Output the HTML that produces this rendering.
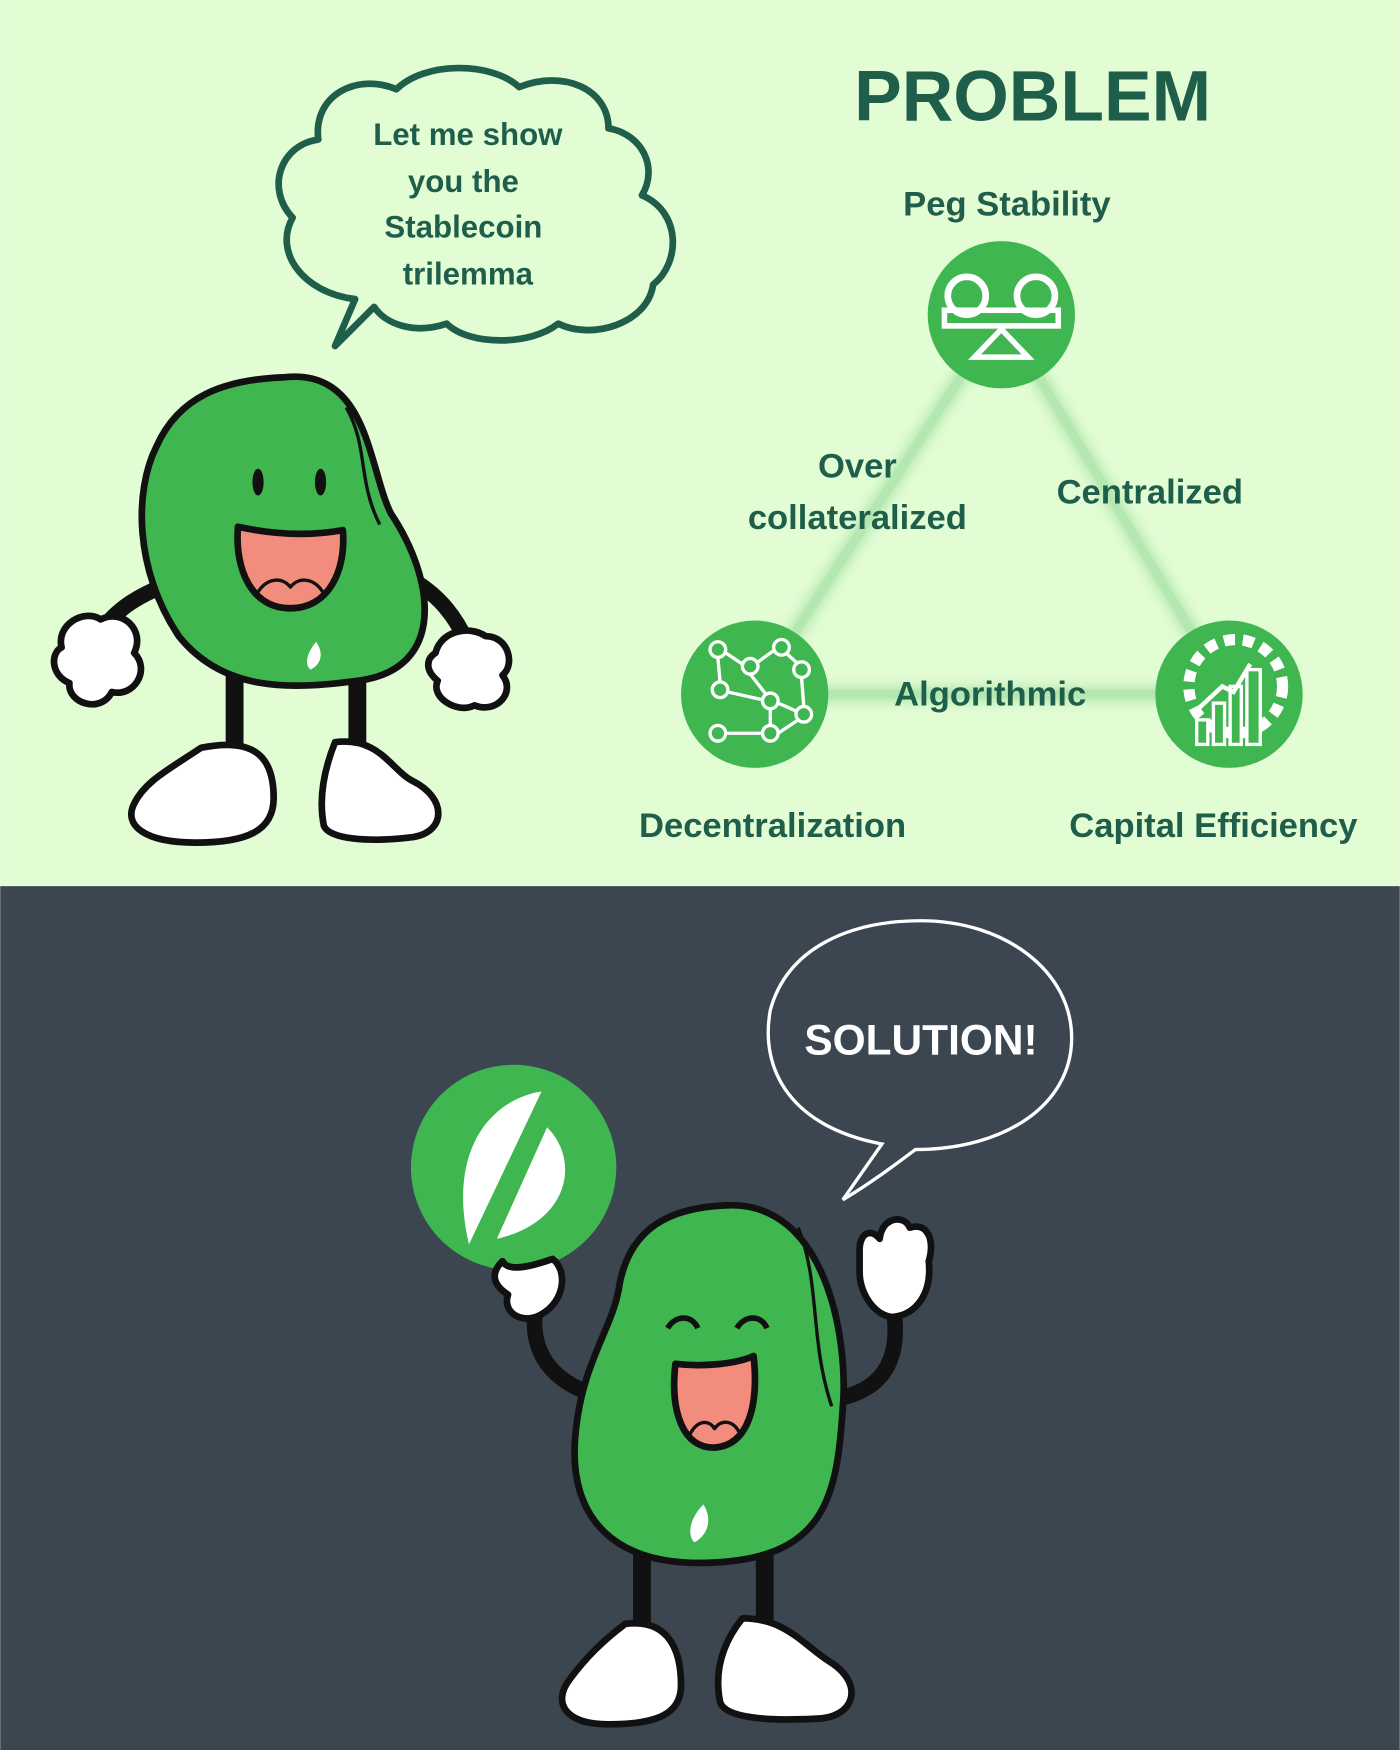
<!DOCTYPE html>
<html><head><meta charset="utf-8">
<style>
html,body{margin:0;padding:0;width:1400px;height:1750px;overflow:hidden;}
svg{display:block}
text{font-family:"Liberation Sans",sans-serif;font-weight:bold;}
</style></head>
<body>
<svg width="1400" height="1750" viewBox="0 0 1254 1568">
<defs>
<filter id="blur" x="-20%" y="-20%" width="140%" height="140%"><feGaussianBlur stdDeviation="5"/></filter>
</defs>
<rect x="0" y="0" width="1254" height="794" fill="#e2fcd4"/>
<rect x="0" y="794" width="1254" height="774" fill="#3b4650"/>

<g>
<path d="M300,310 L318,268 C270,262 245,225 262,195 C238,170 250,130 285,125 C280,85 320,65 355,80 C380,55 440,55 465,78 C505,62 545,80 545,115 C575,120 590,150 575,175 C610,190 610,235 585,255 C580,290 530,305 500,290 C475,310 420,310 400,290 C370,300 345,290 335,275 Z" fill="none" stroke="#1f5e4a" stroke-width="6" stroke-linejoin="round"/>
<text fill="#1f5e4a" font-size="28" text-anchor="middle"><tspan x="419" y="130">Let me show</tspan><tspan x="415" y="172">you the</tspan><tspan x="415" y="213">Stablecoin</tspan><tspan x="419" y="255">trilemma</tspan></text>
</g>

<text x="925" y="108" fill="#1f5e4a" font-size="64" text-anchor="middle">PROBLEM</text>

<g>
<path d="M897,282 L676,622 L1101,622 Z" fill="none" stroke="#b4e8b0" stroke-width="14" filter="url(#blur)"/>
<path d="M897,282 L676,622 L1101,622 Z" fill="none" stroke="#b4e8b0" stroke-width="8"/>
</g>
<text x="902" y="193" fill="#1f5e4a" font-size="31" text-anchor="middle">Peg Stability</text>
<g>
<circle cx="897" cy="282" r="66" fill="#3fb650"/>
<circle cx="866" cy="265" r="17" fill="none" stroke="#fff" stroke-width="6"/>
<circle cx="928" cy="265" r="17" fill="none" stroke="#fff" stroke-width="6"/>
<rect x="846" y="278" width="102" height="14" fill="none" stroke="#fff" stroke-width="5"/>
<path d="M897,295 L873,320 L921,320 Z" fill="none" stroke="#fff" stroke-width="5"/>
</g>
<text fill="#1f5e4a" font-size="31" text-anchor="middle"><tspan x="768" y="428">Over</tspan><tspan x="768" y="474">collateralized</tspan></text>
<text x="1030" y="451" fill="#1f5e4a" font-size="31" text-anchor="middle">Centralized</text>
<text x="887" y="632" fill="#1f5e4a" font-size="31" text-anchor="middle">Algorithmic</text>
<g>
<circle cx="676" cy="622" r="66" fill="#3fb650"/>
<g fill="none" stroke="#fff" stroke-width="3">
<circle cx="643" cy="582" r="7"/><circle cx="672" cy="597" r="7"/><circle cx="700" cy="580" r="7"/><circle cx="718" cy="600" r="7"/><circle cx="645" cy="618" r="7"/><circle cx="690" cy="628" r="7"/><circle cx="720" cy="640" r="7"/><circle cx="643" cy="657" r="7"/><circle cx="690" cy="657" r="7"/>
<path d="M650,585 L665,595 M679,593 L693,583 M705,586 L714,594 M718,607 L720,633 M672,604 L686,622 M652,620 L683,627 M697,630 L713,637 M690,635 L690,650 M650,657 L683,657 M697,657 L715,645 M643,589 L645,611"/>
</g></g>
<text x="692" y="750" fill="#1f5e4a" font-size="31" text-anchor="middle">Decentralization</text>
<g>
<circle cx="1101" cy="622" r="66" fill="#3fb650"/>
<circle cx="1107" cy="615" r="42" fill="none" stroke="#fff" stroke-width="10" stroke-dasharray="10 7"/>
<g fill="#3fb650" stroke="#fff" stroke-width="3">
<rect x="1072" y="645" width="10" height="22"/><rect x="1087" y="630" width="10" height="37"/><rect x="1102" y="615" width="10" height="52"/><rect x="1117" y="600" width="12" height="67"/></g>
<path d="M1068,640 L1095,615 L1105,620 L1120,595" fill="none" stroke="#fff" stroke-width="4"/>
</g>
<text x="1087" y="750" fill="#1f5e4a" font-size="31" text-anchor="middle">Capital Efficiency</text>

<g stroke="#111" stroke-width="6" stroke-linejoin="round">
<path d="M160,520 C130,530 100,545 85,575" fill="none" stroke-width="14"/>
<path d="M370,520 C395,535 410,555 420,580" fill="none" stroke-width="14"/>
<path d="M210,600 L210,680 M320,600 L320,680" stroke-width="16"/>
<path d="M255,338 C330,330 330,420 350,460 C390,520 400,600 320,610 C260,618 200,620 160,570 C120,510 120,440 140,400 C160,355 200,340 255,338 Z" fill="#3fb650"/>
<path d="M310,365 C330,400 320,430 340,470" fill="none" stroke-width="3"/>
<ellipse cx="231" cy="432" rx="5" ry="12" fill="#111" stroke="none"/>
<ellipse cx="287" cy="432" rx="5" ry="12" fill="#111" stroke="none"/>
<path d="M213,472 C250,480 280,480 307,475 C310,510 295,545 260,545 C225,545 210,510 213,472 Z" fill="#f28c7c"/>
<path d="M230,532 C238,518 252,516 260,526 C268,516 282,518 290,532" fill="none" stroke-width="3"/>
<path d="M55,580 C50,560 75,545 90,555 C110,545 130,565 120,585 C135,600 120,625 100,620 C90,640 60,630 62,612 C45,605 45,585 55,580 Z" fill="#fff"/>
<path d="M390,585 C395,565 420,560 435,570 C455,570 462,595 450,605 C462,620 445,640 425,632 C410,640 385,625 392,610 C380,600 382,590 390,585 Z" fill="#fff"/>
<path d="M180,670 C230,660 245,680 245,715 C245,745 220,755 175,755 C130,755 110,740 120,720 C130,700 150,690 180,670 Z" fill="#fff"/>
<path d="M300,665 C340,660 350,690 370,700 C400,715 400,745 370,750 C330,755 295,752 290,740 C285,715 290,690 300,665 Z" fill="#fff"/>
</g>
<path d="M283,575 C275,585 272,595 278,600 C288,595 290,585 283,575 Z" fill="#fff"/>

<g>
<path d="M755,1075 L790,1025 C710,1010 680,960 690,905 C705,850 760,825 825,825 C900,825 960,870 960,930 C960,990 900,1030 820,1030 C800,1045 780,1060 755,1075 Z" fill="none" stroke="#fff" stroke-width="3"/>
<text x="825" y="945" fill="#fff" font-size="38" text-anchor="middle">SOLUTION!</text>
</g>

<g>
<circle cx="460" cy="1046" r="92" fill="#3fb650"/>
<path d="M485,978 C440,985 400,1030 420,1115 Z" fill="#fff"/>
<path d="M490,1010 C520,1040 510,1095 445,1110 Z" fill="#fff"/>
</g>

<g stroke="#111" stroke-width="6" stroke-linejoin="round">
<path d="M480,1170 C470,1230 520,1250 555,1255 M800,1170 C810,1230 780,1250 740,1255" fill="none" stroke-width="14"/>
<path d="M575,1390 L575,1470 M685,1390 L685,1470" stroke-width="16"/>
<path d="M650,1080 C740,1075 760,1200 755,1260 C750,1340 740,1395 640,1400 C550,1405 510,1360 515,1290 C520,1220 550,1190 555,1150 C565,1100 600,1082 650,1080 Z" fill="#3fb650"/>
<path d="M715,1100 C735,1150 725,1200 745,1260" fill="none" stroke-width="3"/>
<path d="M598,1190 C605,1178 620,1178 625,1190 M660,1190 C667,1178 682,1178 687,1190" fill="none" stroke-width="5"/>
<path d="M605,1222 C630,1225 660,1222 675,1215 C680,1260 670,1295 640,1297 C612,1298 600,1265 605,1222 Z" fill="#f28c7c"/>
<path d="M618,1285 C625,1272 635,1272 640,1280 C646,1272 656,1272 662,1283" fill="none" stroke-width="3"/>
<path d="M450,1130 C455,1140 475,1135 495,1128 C510,1140 505,1170 480,1180 C465,1185 450,1175 455,1160 C440,1150 440,1140 450,1130 Z" fill="#fff"/>
<path d="M770,1120 C770,1105 780,1100 788,1110 C790,1090 810,1088 815,1100 C830,1095 838,1110 832,1130 C835,1160 820,1178 800,1180 C785,1180 770,1160 770,1140 Z" fill="#fff"/>
<path d="M560,1455 C600,1450 610,1480 610,1510 C610,1535 590,1545 545,1545 C505,1545 495,1525 510,1505 C525,1485 540,1470 560,1455 Z" fill="#fff"/>
<path d="M665,1450 C705,1450 720,1475 745,1490 C775,1510 765,1540 730,1540 C690,1542 650,1540 645,1525 C640,1500 645,1475 665,1450 Z" fill="#fff"/>
</g>
<path d="M630,1348 C618,1360 615,1375 622,1382 C635,1375 638,1360 630,1348 Z" fill="#fff"/>
</svg>
</body></html>
